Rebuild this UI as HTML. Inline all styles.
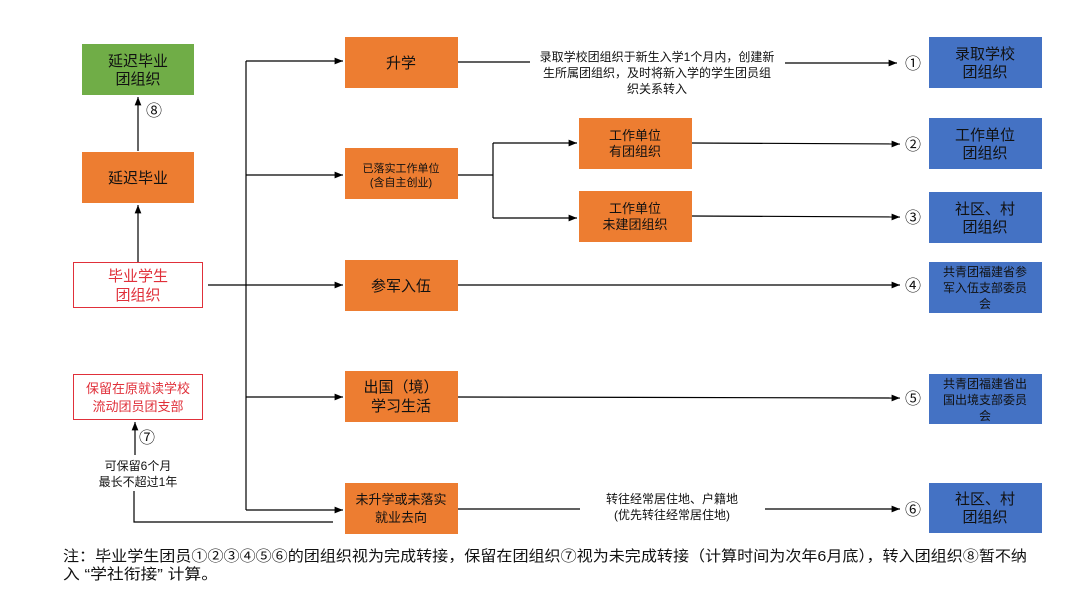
<!DOCTYPE html>
<html><head><meta charset="utf-8"><style>
body{margin:0;background:#fff}
svg{display:block;font-family:"Liberation Sans","Noto Sans CJK SC",sans-serif}
</style></head><body>
<svg width="1080" height="608" viewBox="0 0 1080 608" xmlns="http://www.w3.org/2000/svg">
<defs><marker id="a" viewBox="0 0 10 10" refX="10" refY="5" markerWidth="7" markerHeight="7" orient="auto"><path d="M0,1 L10,5 L0,9 z" fill="#000"/></marker></defs>
<g stroke="#000" stroke-width="1.2" fill="none">
<line x1="246" y1="61" x2="246" y2="510"/>
<line x1="246" y1="61" x2="343" y2="61" marker-end="url(#a)"/>
<line x1="246" y1="175" x2="343" y2="175" marker-end="url(#a)"/>
<line x1="208" y1="285" x2="343" y2="285" marker-end="url(#a)"/>
<line x1="246" y1="397" x2="343" y2="397" marker-end="url(#a)"/>
<line x1="246" y1="510" x2="343" y2="510" marker-end="url(#a)"/>
<line x1="138" y1="262" x2="138" y2="205" marker-end="url(#a)"/>
<line x1="138" y1="151" x2="138" y2="97" marker-end="url(#a)"/>
<polyline points="333,522 134,522 134,491"/>
<line x1="135" y1="455" x2="135" y2="422" marker-end="url(#a)"/>
<line x1="458" y1="62" x2="530" y2="62"/>
<line x1="785" y1="63" x2="897" y2="63" marker-end="url(#a)"/>
<polyline points="458,175 493,175"/>
<line x1="493" y1="143" x2="493" y2="218"/>
<line x1="493" y1="143" x2="577" y2="143" marker-end="url(#a)"/>
<line x1="493" y1="218" x2="577" y2="218" marker-end="url(#a)"/>
<line x1="692" y1="143" x2="900" y2="144" marker-end="url(#a)"/>
<line x1="692" y1="216" x2="900" y2="217" marker-end="url(#a)"/>
<line x1="458" y1="285" x2="900" y2="285" marker-end="url(#a)"/>
<line x1="458" y1="397" x2="900" y2="398" marker-end="url(#a)"/>
<line x1="458" y1="509" x2="580" y2="509"/>
<line x1="765" y1="509" x2="900" y2="509" marker-end="url(#a)"/>
</g>
<g>
<rect x="82" y="44" width="112" height="51" fill="#70AD47"/>
<rect x="82" y="152" width="112" height="51" fill="#ED7D31"/>
<rect x="73.5" y="262.5" width="129" height="45" fill="#fff" stroke="#E0303A"/>
<rect x="73.5" y="374.5" width="129" height="45" fill="#fff" stroke="#E0303A"/>
<rect x="345" y="37" width="113" height="51" fill="#ED7D31"/>
<rect x="345" y="148" width="113" height="51" fill="#ED7D31"/>
<rect x="345" y="260" width="113" height="51" fill="#ED7D31"/>
<rect x="345" y="371" width="113" height="51" fill="#ED7D31"/>
<rect x="345" y="483" width="113" height="51" fill="#ED7D31"/>
<rect x="579" y="118" width="113" height="51" fill="#ED7D31"/>
<rect x="579" y="191" width="113" height="51" fill="#ED7D31"/>
<rect x="929" y="37" width="113" height="51" fill="#4472C4"/>
<rect x="929" y="118" width="113" height="51" fill="#4472C4"/>
<rect x="929" y="192" width="113" height="51" fill="#4472C4"/>
<rect x="929" y="262" width="113" height="51" fill="#4472C4"/>
<rect x="929" y="374" width="113" height="50" fill="#4472C4"/>
<rect x="929" y="483" width="113" height="50" fill="#4472C4"/>
</g>
<g text-anchor="middle" font-size="15" fill="#111">
<text x="138" y="66">延迟毕业</text><text x="138" y="84">团组织</text>
<text x="138" y="183">延迟毕业</text>
<text x="138" y="281" fill="#E0303A">毕业学生</text><text x="138" y="300" fill="#E0303A">团组织</text>
<text x="138" y="393" font-size="13" fill="#E0303A">保留在原就读学校</text><text x="138" y="411" font-size="13" fill="#E0303A">流动团员团支部</text>
<text x="401" y="68">升学</text>
<text x="401" y="172" font-size="11">已落实工作单位</text><text x="401" y="186" font-size="11">(含自主创业)</text>
<text x="401" y="291">参军入伍</text>
<text x="401" y="392">出国（境）</text><text x="401" y="411">学习生活</text>
<text x="401" y="504" font-size="13">未升学或未落实</text><text x="401" y="522" font-size="13">就业去向</text>
<text x="635" y="140" font-size="13">工作单位</text><text x="635" y="156" font-size="13">有团组织</text>
<text x="635" y="213" font-size="13">工作单位</text><text x="635" y="229" font-size="13">未建团组织</text>
<text x="985" y="59">录取学校</text><text x="985" y="77">团组织</text>
<text x="985" y="140">工作单位</text><text x="985" y="158">团组织</text>
<text x="985" y="214">社区、村</text><text x="985" y="232">团组织</text>
<text x="985" y="276" font-size="12">共青团福建省参</text><text x="985" y="292" font-size="12">军入伍支部委员</text><text x="985" y="308" font-size="12">会</text>
<text x="985" y="388" font-size="12">共青团福建省出</text><text x="985" y="404" font-size="12">国出境支部委员</text><text x="985" y="420" font-size="12">会</text>
<text x="985" y="504">社区、村</text><text x="985" y="522">团组织</text>
<text x="657" y="61" font-size="12">录取学校团组织于新生入学1个月内，创建新</text>
<text x="657" y="77" font-size="12">生所属团组织，及时将新入学的学生团员组</text>
<text x="657" y="93" font-size="12">织关系转入</text>
<text x="672" y="503" font-size="12">转往经常居住地、户籍地</text>
<text x="672" y="519" font-size="12">(优先转往经常居住地)</text>
<text x="138" y="470" font-size="12">可保留6个月</text>
<text x="138" y="486" font-size="12">最长不超过1年</text>
<g font-size="16">
<text x="913" y="69">①</text><text x="913" y="150">②</text><text x="913" y="223">③</text>
<text x="913" y="291">④</text><text x="913" y="404">⑤</text><text x="913" y="515">⑥</text>
<text x="154" y="116">⑧</text><text x="147" y="443">⑦</text>
</g>
</g>
<text x="63" y="561" font-size="15" fill="#111" textLength="964" lengthAdjust="spacingAndGlyphs">注：毕业学生团员①②③④⑤⑥的团组织视为完成转接，保留在团组织⑦视为未完成转接（计算时间为次年6月底），转入团组织⑧暂不纳</text>
<text x="63" y="579" font-size="15" fill="#111" textLength="155" lengthAdjust="spacingAndGlyphs">入 “学社衔接” 计算。</text>
</svg>
</body></html>
